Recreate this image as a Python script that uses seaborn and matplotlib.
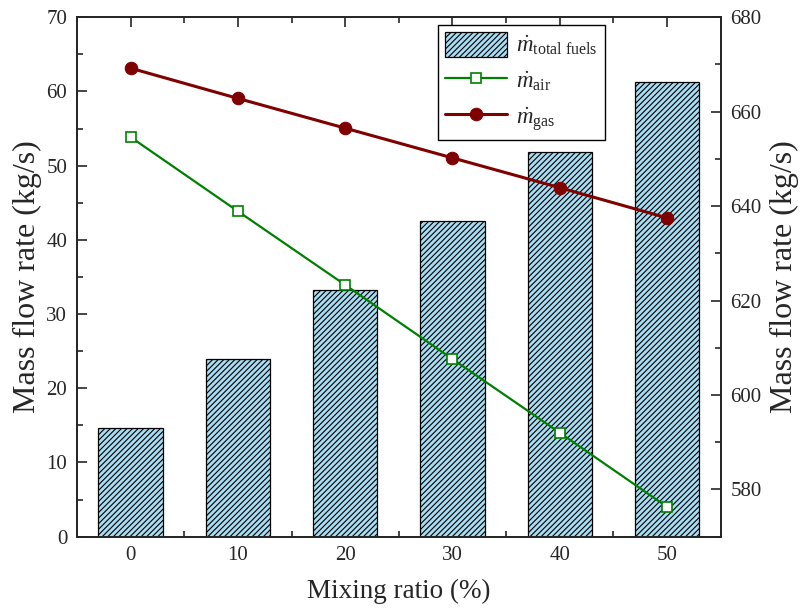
import numpy as np
import seaborn as sns
import matplotlib.pyplot as plt
from matplotlib.ticker import MultipleLocator

# values
mixing_ratio = [0, 10, 20, 30, 40, 50]
m_fuel = [14.6, 23.9, 33.2, 42.6, 51.9, 61.2]
m_air = [654.6, 638.9, 623.3, 607.6, 592.0, 576.3]
m_gas = [669.2, 662.8, 656.5, 650.2, 643.9, 637.5]

sns.set_style("ticks")
plt.rcParams['font.family'] = ['Liberation Serif', 'DejaVu Serif']
plt.rcParams['mathtext.fontset'] = 'custom'
plt.rcParams['mathtext.rm'] = 'Liberation Serif'
plt.rcParams['mathtext.it'] = 'Liberation Serif:italic'
plt.rcParams['hatch.linewidth'] = 0.8
plt.rcParams['axes.linewidth'] = 1.3

fig = plt.figure(figsize=(8.02, 6.14), dpi=100)
ax = fig.add_axes([0.096, 0.126, 0.8026, 0.846])

sns.barplot(x=mixing_ratio, y=m_fuel, native_scale=True, width=0.6,
            color='#a8dcf2', edgecolor='black', linewidth=0.9, ax=ax)
for p in ax.patches:
    p.set_hatch('//////')
    p.set_facecolor('#a8dcf2')

ax.set_xlim(-5, 55)
ax.set_ylim(0, 70)
ax.xaxis.set_major_locator(MultipleLocator(10))
ax.xaxis.set_minor_locator(MultipleLocator(5))
ax.yaxis.set_major_locator(MultipleLocator(10))
ax.yaxis.set_minor_locator(MultipleLocator(5))
ax.tick_params(which='both', direction='in', top=True, right=True, width=1.2,
               labelsize=15, pad=7)
ax.tick_params(which='major', length=7)
ax.tick_params(which='minor', length=4)
ax.set_xlabel('Mixing ratio (%)', fontsize=19.5, labelpad=10)
ax.set_ylabel('Mass flow rate (kg/s)', fontsize=23, labelpad=3)

ax2 = ax.twinx()
sns.lineplot(x=mixing_ratio, y=m_air, ax=ax2, color='#008000', linewidth=1.6,
             marker='s', markersize=7.5, markerfacecolor='white',
             markeredgecolor='#008000', markeredgewidth=1.2)
sns.lineplot(x=mixing_ratio, y=m_gas, ax=ax2, color='#800000', linewidth=2.2,
             marker='o', markersize=9, markerfacecolor='#800000',
             markeredgecolor='#800000')
ax2.set_ylim(570, 680)
ax2.yaxis.set_major_locator(MultipleLocator(20))
ax2.yaxis.set_minor_locator(MultipleLocator(10))
ax2.tick_params(which='both', direction='in', width=1.2, labelsize=15, pad=7)
ax2.tick_params(which='major', length=7)
ax2.tick_params(which='minor', length=4)
ax2.set_ylabel('Mass flow rate (kg/s)', fontsize=23, labelpad=6)

handles = [ax.patches[0], ax2.lines[0], ax2.lines[1]]
labels = [r'$\dot{m}_{\mathrm{total\ fuels}}$', r'$\dot{m}_{\mathrm{air}}$',
          r'$\dot{m}_{\mathrm{gas}}$']
leg = ax2.legend(handles, labels, loc='upper right', bbox_to_anchor=(0.82, 0.985),
                 fontsize=16.5, frameon=True, fancybox=False, edgecolor='black',
                 framealpha=1, handlelength=2.7, handleheight=1.3,
                 borderpad=0.3, labelspacing=0.45, handletextpad=0.4,
                 borderaxespad=0)
leg.get_frame().set_linewidth(1.0)

fig.savefig('out.png', dpi=100)
